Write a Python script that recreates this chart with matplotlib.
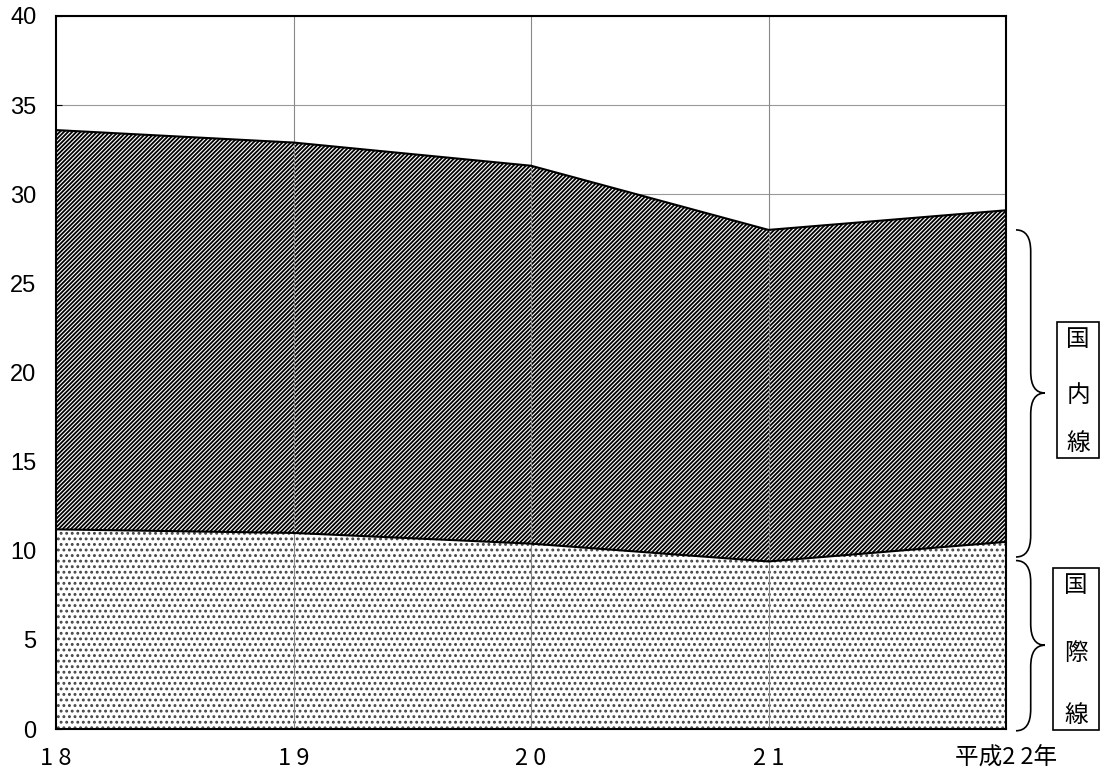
import matplotlib
matplotlib.use('Agg')
import matplotlib.pyplot as plt
from matplotlib.path import Path
from matplotlib.patches import PathPatch, Rectangle
import matplotlib.transforms as mtransforms

plt.rcParams['font.family'] = ['Liberation Sans', 'DejaVu Sans']
plt.rcParams['hatch.linewidth'] = 1.3

# 年度 (平成)
years = ['1 8', '1 9', '2 0', '2 1', '平成2 2年']
# 国際線 / 国内線 (stacked)
international = [11.2, 11.0, 10.4, 9.4, 10.5]
domestic = [22.4, 21.9, 21.2, 18.6, 18.6]

x = list(range(len(years)))
total = [a + b for a, b in zip(international, domestic)]

fig = plt.figure(figsize=(11.02, 7.80), dpi=100)
ax = fig.add_axes([56 / 1102, 51 / 780, 950 / 1102, 713 / 780])

ax.set_axisbelow(True)
ax.grid(axis='y', color='#999999', linewidth=0.8)

ax.fill_between(x, 0, international, facecolor='white', edgecolor='#444444',
                hatch='...', linewidth=0, zorder=2)
ax.fill_between(x, international, total, facecolor='white', edgecolor='black',
                hatch='////////', linewidth=0, zorder=2)
ax.plot(x, international, color='black', linewidth=1.5, zorder=3)
ax.plot(x, total, color='black', linewidth=1.5, zorder=3)

# category lines over the areas
for xi in x[1:-1]:
    ax.axvline(xi, color='#888888', linewidth=0.8, zorder=2.5)

ax.set_xlim(0, len(years) - 1)
ax.set_ylim(0, 40)
ax.set_yticks(range(0, 41, 5))
ax.set_xticks(x)
ax.set_xticklabels(years, family=['Noto Sans CJK JP', 'DejaVu Sans'], fontsize=17)
ax.tick_params(axis='y', direction='in', length=4, pad=14, labelsize=17, width=0.8)
ax.tick_params(axis='x', length=0, pad=13)
for s in ax.spines.values():
    s.set_linewidth(1.5)
    s.set_zorder(4)


def brace(ax, ytop, ybot, ytip, x0=1.0105, xm=1.026, x1=1.041, r=1.2):
    trans = mtransforms.blended_transform_factory(ax.transAxes, ax.transData)
    verts = [(x0, ytop), (xm, ytop), (xm, ytop - r),
             (xm, ytip + r),
             (xm, ytip), (x1, ytip),
             (xm, ytip), (xm, ytip - r),
             (xm, ybot + r),
             (xm, ybot), (x0, ybot)]
    codes = [Path.MOVETO, Path.CURVE3, Path.CURVE3,
             Path.LINETO,
             Path.CURVE3, Path.CURVE3,
             Path.CURVE3, Path.CURVE3,
             Path.LINETO,
             Path.CURVE3, Path.CURVE3]
    p = PathPatch(Path(verts, codes), facecolor='none', edgecolor='black',
                  linewidth=1.2, transform=trans, clip_on=False)
    ax.add_patch(p)


brace(ax, 28.0, 9.65, 18.85)
brace(ax, 9.45, -0.1, 4.7)

cjk = ['Noto Sans CJK JP', 'DejaVu Sans']


def label_box(x0, y0, x1, y1, chars, ys):
    fig.patches.append(Rectangle((x0 / 1102, 1 - y1 / 780), (x1 - x0) / 1102,
                                 (y1 - y0) / 780, transform=fig.transFigure,
                                 facecolor='none', edgecolor='black', linewidth=1.2))
    cx = (x0 + x1) / 2 / 1102
    for ch, yy in zip(chars, ys):
        fig.text(cx, 1 - yy / 780, ch, ha='center', va='center',
                 fontsize=17, family=cjk)


label_box(1057, 322, 1099, 458, '国内線', [340, 396, 443])
label_box(1053, 568, 1099, 730, '国際線', [586, 653, 715])

fig.savefig('out.png', dpi=100)
